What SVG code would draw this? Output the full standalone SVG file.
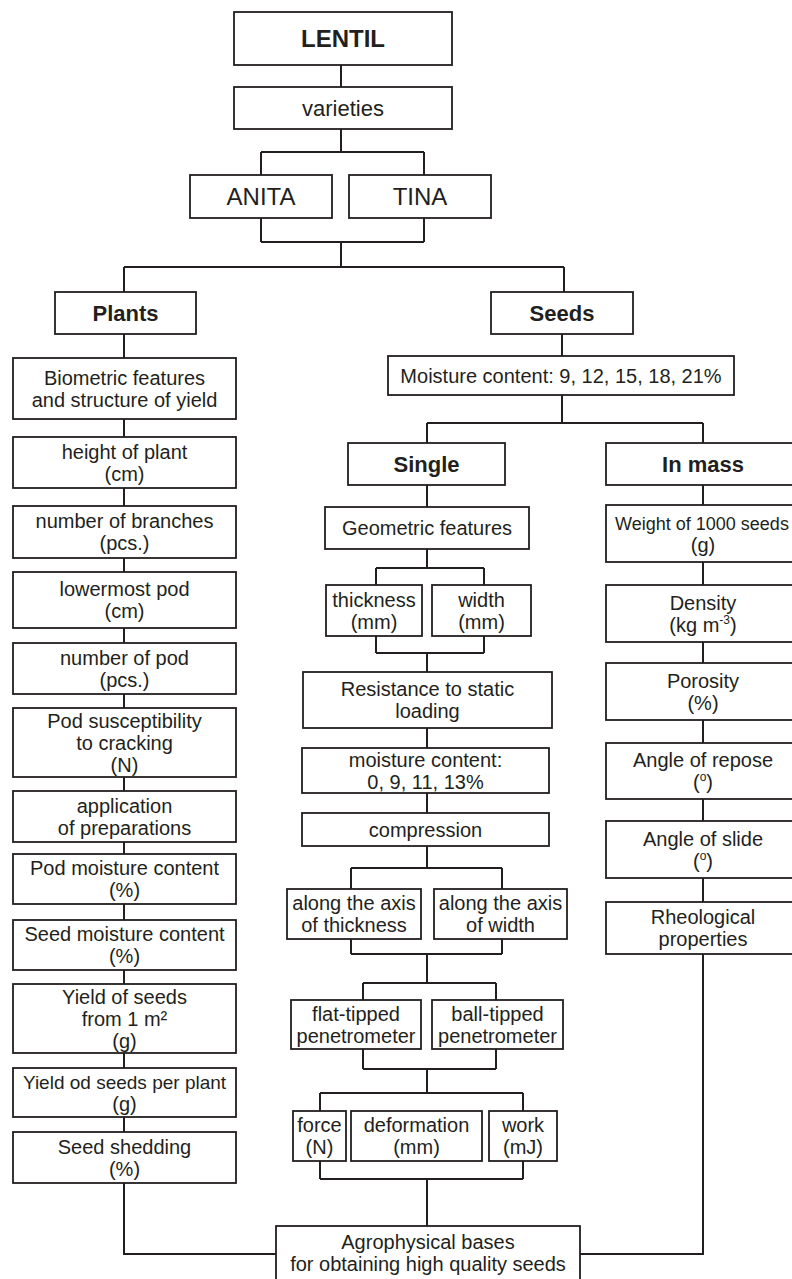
<svg xmlns="http://www.w3.org/2000/svg" width="792" height="1279" viewBox="0 0 792 1279">
<style>
rect{fill:#fff;stroke:#231f20;stroke-width:1.8}
text{font-family:"Liberation Sans",Arial,sans-serif;font-size:20px;fill:#231f20;text-anchor:middle}
.b{font-weight:bold;font-size:22px}
.big{font-size:24px}
.s19{font-size:19px}
.s18{font-size:18px}
.sup{font-size:12px}
#connectors path{fill:none;stroke:#231f20;stroke-width:2}
</style>
<rect x="0" y="0" width="792" height="1279" style="fill:#fff;stroke:none"/>
<g id="connectors">
<path d="M341 65V87M341 129V152M261 152H424M261 152V175M424 152V175M261 218V242M424 218V242M261 242H424M341 242V267M124 267H564M124 267V292M564 267V292"/>
<path d="M124 334V358M124 419V437M124 488V506M124 558V572M124 628V643M124 694V708M124 777V791M124 842V854M124 904V920M124 970V984M124 1053V1068M124 1117V1132M124 1183V1254H276"/>
<path d="M562 334V356M562 395V423M427 423H703M427 423V443M703 423V443"/>
<path d="M427 485V507M427 549V568M376 568H484M376 568V585M484 568V585M376 636V653M484 636V653M376 653H484M427 653V672M427 728V748M427 793V813M427 846V868M351 868H502M351 868V889M502 868V889M351 939V954M502 939V954M351 954H502M427 954V983M363 983H496M363 983V1000M496 983V1000M363 1049V1069M496 1049V1069M363 1069H496M427 1069V1093M320 1093H523M320 1093V1111M523 1093V1111M320 1161V1179M523 1161V1179M320 1179H523M427 1179V1226"/>
<path d="M703 485V505M703 562V585M703 642V663M703 720V743M703 799V821M703 878V902M703 954V1254H580"/>
</g>
<g id="lentil"><rect x="234" y="12" width="218" height="53"/><text class="b big" x="343" y="47">LENTIL</text></g>
<g id="varieties"><rect x="234" y="87" width="218" height="42"/><text x="343" y="116" style="font-size:22px">varieties</text></g>
<g id="anita"><rect x="190" y="175" width="142" height="43"/><text class="big" x="261" y="205">ANITA</text></g>
<g id="tina"><rect x="349" y="175" width="142" height="43"/><text class="big" x="420" y="205">TINA</text></g>
<g id="plants"><rect x="55" y="292" width="141" height="42"/><text class="b" x="125.5" y="321">Plants</text></g>
<g id="seeds"><rect x="491" y="292" width="142" height="42"/><text class="b" x="562" y="321">Seeds</text></g>
<g id="biometric"><rect x="13" y="358" width="223" height="61"/><text x="124.5" y="384.5">Biometric features</text><text x="124.5" y="406.5">and structure of yield</text></g>
<g id="height"><rect x="13" y="437" width="223" height="51"/><text x="124.5" y="458.5">height of plant</text><text x="124.5" y="480.5">(cm)</text></g>
<g id="branches"><rect x="13" y="506" width="223" height="52"/><text x="124.5" y="528">number of branches</text><text x="124.5" y="550">(pcs.)</text></g>
<g id="lowermost"><rect x="13" y="572" width="223" height="56"/><text x="124.5" y="596">lowermost pod</text><text x="124.5" y="618">(cm)</text></g>
<g id="numpod"><rect x="13" y="643" width="223" height="51"/><text x="124.5" y="664.5">number of pod</text><text x="124.5" y="686.5">(pcs.)</text></g>
<g id="cracking"><rect x="13" y="708" width="223" height="69"/><text x="124.5" y="727.5">Pod susceptibility</text><text x="124.5" y="749.5">to cracking</text><text x="124.5" y="771.5">(N)</text></g>
<g id="application"><rect x="13" y="791" width="223" height="51"/><text x="124.5" y="812.5">application</text><text x="124.5" y="834.5">of preparations</text></g>
<g id="podmoist"><rect x="13" y="854" width="223" height="50"/><text x="124.5" y="875">Pod moisture content</text><text x="124.5" y="897">(%)</text></g>
<g id="seedmoist"><rect x="13" y="920" width="223" height="50"/><text x="124.5" y="941">Seed moisture content</text><text x="124.5" y="963">(%)</text></g>
<g id="yield"><rect x="13" y="984" width="223" height="69"/><text x="124.5" y="1003.5">Yield of seeds</text><text x="124.5" y="1025.5">from 1 m²</text><text x="124.5" y="1047.5">(g)</text></g>
<g id="yieldplant"><rect x="13" y="1068" width="223" height="49"/><text class="s19" x="124.5" y="1088.5">Yield od seeds per plant</text><text x="124.5" y="1110.5">(g)</text></g>
<g id="shedding"><rect x="13" y="1132" width="223" height="51"/><text x="124.5" y="1153.5">Seed shedding</text><text x="124.5" y="1175.5">(%)</text></g>
<g id="moisture"><rect x="388" y="356" width="346" height="39"/><text x="561" y="382.5">Moisture content: 9, 12, 15, 18, 21%</text></g>
<g id="single"><rect x="348" y="443" width="157" height="42"/><text class="b" x="426.5" y="472">Single</text></g>
<g id="inmass"><rect x="606" y="443" width="194" height="42"/><text class="b" x="703" y="472">In mass</text></g>
<g id="geometric"><rect x="325" y="507" width="204" height="42"/><text x="427" y="535">Geometric features</text></g>
<g id="thickness"><rect x="326" y="585" width="96" height="51"/><text x="374" y="606.5">thickness</text><text x="374" y="628.5">(mm)</text></g>
<g id="width"><rect x="432" y="585" width="99" height="51"/><text x="481.5" y="606.5">width</text><text x="481.5" y="628.5">(mm)</text></g>
<g id="resistance"><rect x="303" y="672" width="249" height="56"/><text x="427.5" y="696">Resistance to static</text><text x="427.5" y="718">loading</text></g>
<g id="mc"><rect x="302" y="748" width="247" height="45"/><text x="425.5" y="766.5">moisture content:</text><text x="425.5" y="788.5">0, 9, 11, 13%</text></g>
<g id="compression"><rect x="302" y="813" width="247" height="33"/><text x="425.5" y="836.5">compression</text></g>
<g id="axthick"><rect x="287" y="889" width="134" height="50"/><text x="354" y="910">along the axis</text><text x="354" y="932">of thickness</text></g>
<g id="axwidth"><rect x="434" y="889" width="133" height="50"/><text x="500.5" y="910">along the axis</text><text x="500.5" y="932">of width</text></g>
<g id="flat"><rect x="291" y="1000" width="130" height="49"/><text x="356" y="1020.5">flat-tipped</text><text x="356" y="1042.5">penetrometer</text></g>
<g id="ball"><rect x="432" y="1000" width="131" height="49"/><text x="497.5" y="1020.5">ball-tipped</text><text x="497.5" y="1042.5">penetrometer</text></g>
<g id="force"><rect x="293" y="1111" width="53" height="50"/><text x="319.5" y="1132">force</text><text x="319.5" y="1154">(N)</text></g>
<g id="deformation"><rect x="351" y="1111" width="131" height="50"/><text x="416.5" y="1132">deformation</text><text x="416.5" y="1154">(mm)</text></g>
<g id="work"><rect x="489" y="1111" width="68" height="50"/><text x="523" y="1132">work</text><text x="523" y="1154">(mJ)</text></g>
<g id="agro"><rect x="276" y="1226" width="304" height="60"/><text x="428" y="1249">Agrophysical bases</text><text x="428" y="1271">for obtaining high quality seeds</text></g>
<g id="weight"><rect x="606" y="505" width="194" height="57"/><text class="s18" x="702" y="529.5">Weight of 1000 seeds</text><text x="703" y="551.5">(g)</text></g>
<g id="density"><rect x="606" y="585" width="194" height="57"/><text x="703" y="609.5">Density</text><text x="703" y="631.5">(kg m<tspan class="sup" dy="-8">-3</tspan><tspan dy="8">)</tspan></text></g>
<g id="porosity"><rect x="606" y="663" width="194" height="57"/><text x="703" y="687.5">Porosity</text><text x="703" y="709.5">(%)</text></g>
<g id="repose"><rect x="606" y="743" width="194" height="56"/><text x="703" y="767">Angle of repose</text><text x="703" y="789">(<tspan class="sup" dy="-8">o</tspan><tspan dy="8">)</tspan></text></g>
<g id="slide"><rect x="606" y="821" width="194" height="57"/><text x="703" y="845.5">Angle of slide</text><text x="703" y="867.5">(<tspan class="sup" dy="-8">o</tspan><tspan dy="8">)</tspan></text></g>
<g id="rheo"><rect x="606" y="902" width="194" height="52"/><text x="703" y="924">Rheological</text><text x="703" y="946">properties</text></g>
</svg>
